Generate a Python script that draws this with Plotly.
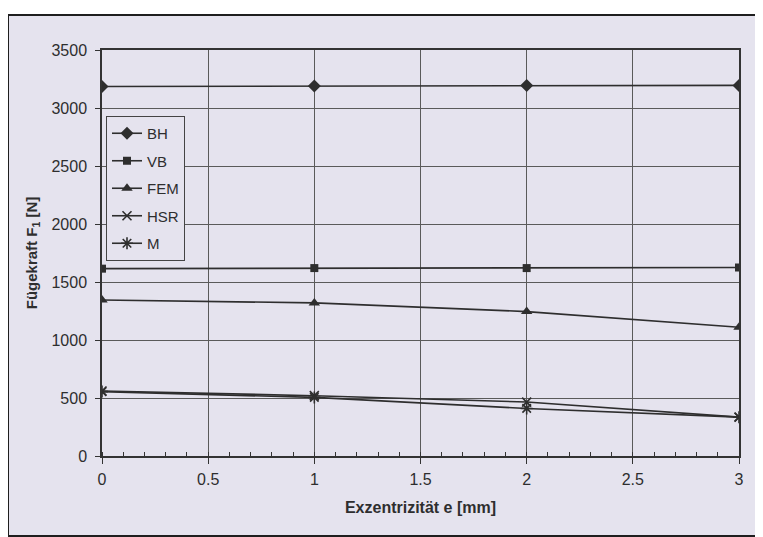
import plotly.graph_objects as go

x_vals = [0, 1, 2, 3]
bh = [3185, 3190, 3195, 3195]
vb = [1615, 1620, 1620, 1625]
fem = [1345, 1320, 1245, 1110]
hsr = [560, 520, 465, 335]
m = [555, 505, 410, 335]

series = [
    ("BH", bh, "diamond", 10),
    ("VB", vb, "square", 8),
    ("FEM", fem, "triangle-up", 10),
    ("HSR", hsr, "x-thin-open", 9),
    ("M", m, "asterisk-open", 10),
]

x_ticks = [0, 0.5, 1, 1.5, 2, 2.5, 3]
y_ticks = [0, 500, 1000, 1500, 2000, 2500, 3000, 3500]

ink = "#2e2e2e"
grid = "#5a5a5a"
bg = "#e5e3ee"

fig = go.Figure()
for name, ys, sym, sz in series:
    open_sym = sym.endswith("open")
    fig.add_trace(go.Scatter(
        x=x_vals, y=ys, name=name, mode="lines+markers", legendgroup=name,
        line=dict(color=ink, width=1.6),
        marker=dict(symbol=sym, size=sz, color=ink,
                    line=dict(color=ink, width=1.6 if open_sym else 0)),
    ))

# page is offset by the 8px body margin
OFF = 8
W, H = 763, 537
ml, mr, mt, mb = 94, 32, 42, 89
pw, ph = W - ml - mr, H - mt - mb

def px2paper_x(px):
    return (px - OFF - ml) / pw

def px2paper_y(py):
    return (H - mb - (py - OFF)) / ph

fig.add_shape(type="rect", xref="paper", yref="paper",
              x0=px2paper_x(8), x1=px2paper_x(762),
              y0=px2paper_y(536), y1=px2paper_y(15),
              fillcolor=bg, line=dict(color="#1e1e1e", width=2), layer="below")

fig.update_layout(
    width=W, height=H,
    margin=dict(l=ml, r=mr, t=mt, b=mb),
    paper_bgcolor="white",
    plot_bgcolor="rgba(0,0,0,0)",
    font=dict(family="Liberation Sans, Arial, sans-serif", size=16, color=ink),
    showlegend=True,
    legend=dict(x=px2paper_x(106), y=px2paper_y(116), xanchor="left", yanchor="top",
                bgcolor=bg, bordercolor="#444", borderwidth=1,
                font=dict(size=15, color=ink), tracegroupgap=5, itemwidth=30),
    xaxis=dict(
        range=[0, 3], tickvals=x_ticks, ticktext=[f"{v:g}" for v in x_ticks],
        showgrid=True, gridcolor=grid, gridwidth=1,
        showline=True, linecolor="#333", linewidth=1.5, mirror=True,
        ticks="outside", ticklen=6, tickcolor="#333",
        tickfont=dict(size=16), ticklabelstandoff=2,
        minor=dict(dtick=0.1, ticks="inside", ticklen=4, tickcolor="#333", showgrid=False),
        zeroline=False,
        title=dict(text="<b>Exzentrizität e [mm]</b>", font=dict(size=16), standoff=15),
    ),
    yaxis=dict(
        range=[0, 3500], tickvals=y_ticks, ticktext=[str(v) for v in y_ticks],
        showgrid=True, gridcolor=grid, gridwidth=1,
        showline=True, linecolor="#333", linewidth=1.5, mirror=True,
        ticks="outside", ticklen=5, tickcolor="#333",
        tickfont=dict(size=16), ticklabelstandoff=5,
        zeroline=False,
        title=dict(text="<b>Fügekraft F<sub>1</sub> [N]</b>", font=dict(size=15), standoff=10),
    ),
)

fig.write_html("out.html")
